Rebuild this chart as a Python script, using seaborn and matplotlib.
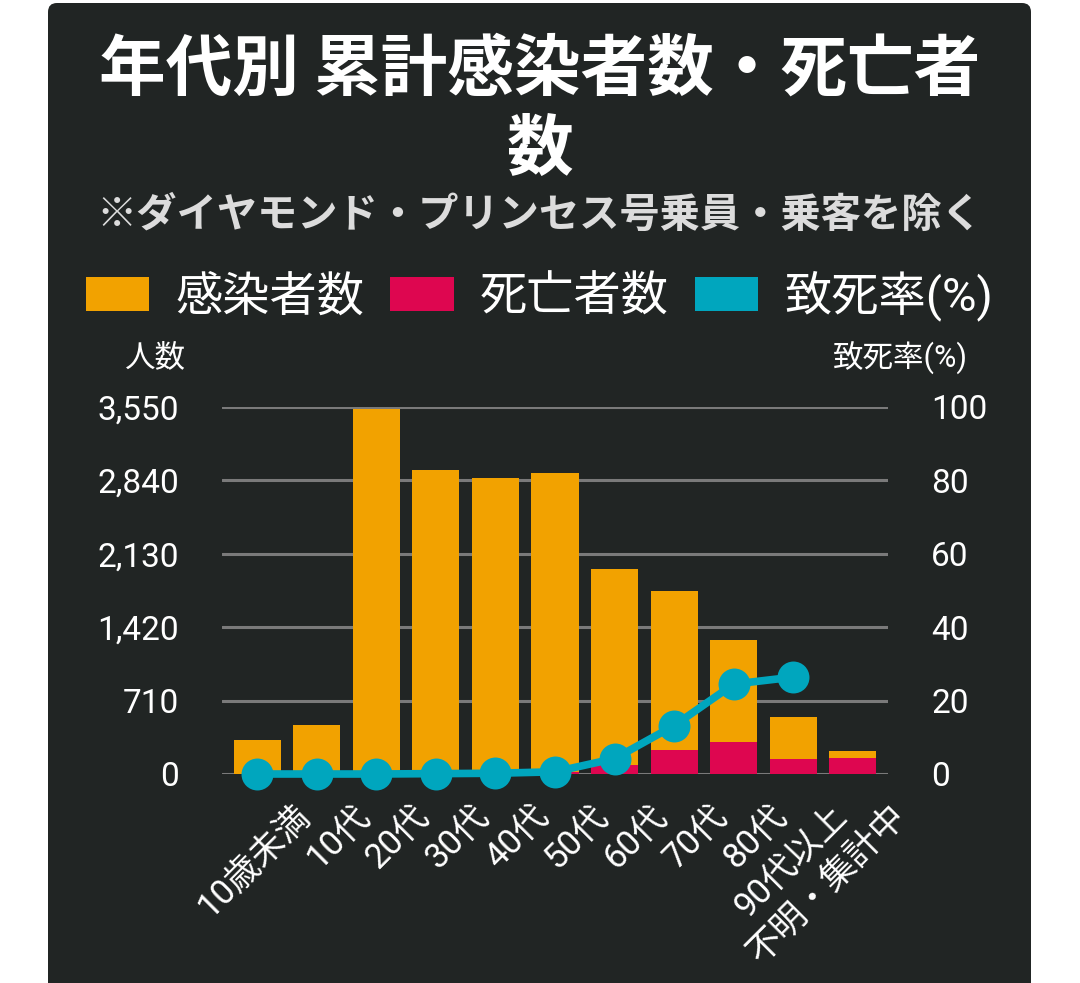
import matplotlib
matplotlib.use('Agg')
import matplotlib.pyplot as plt
import matplotlib.transforms as mtransforms
from matplotlib.patches import FancyBboxPatch, Patch
import numpy as np
import seaborn as sns

# データ
ages = ['10歳未満', '10代', '20代', '30代', '40代', '50代', '60代', '70代', '80代', '90代以上', '不明・集計中']
cases = [329, 474, 3530, 2940, 2865, 2910, 1985, 1770, 1296, 551, 222]
deaths = [0, 0, 0, 2, 4, 20, 85, 232, 310, 145, 155]
rate_ages = ['10歳未満', '10代', '20代', '30代', '40代', '50代', '60代', '70代', '80代', '90代以上']
rate = [0, 0, 0, 0.1, 0.2, 0.6, 4.2, 13.2, 24.5, 26.4]

left_ticks = [0, 710, 1420, 2130, 2840, 3550]
right_ticks = [0, 20, 40, 60, 80, 100]

BG = '#212524'
ORANGE = '#F2A200'
RED = '#DE0650'
TEAL = '#00A6BE'
GRID = '#7a7a7a'

sns.set_theme(style='dark')
plt.rcParams['font.family'] = ['Roboto', 'Noto Sans CJK JP', 'DejaVu Sans']
plt.rcParams['axes.unicode_minus'] = False

W, H = 1080, 983
fig = plt.figure(figsize=(W / 100, H / 100), dpi=100, facecolor='white')

# 背景パネル(角丸)
panel = FancyBboxPatch((48, -30), 983, 1010, boxstyle='round,pad=0,rounding_size=9',
                       transform=mtransforms.IdentityTransform(), facecolor=BG,
                       edgecolor='none', zorder=-5)
fig.patches.append(panel)

ax = fig.add_axes([222 / W, 1 - 774 / H, 666 / W, 367 / H])
ax.set_facecolor('none')

sns.barplot(x=ages, y=cases, color=ORANGE, saturation=1, width=0.79, ax=ax,
            linewidth=0, edgecolor='none', zorder=2)
sns.barplot(x=ages, y=deaths, color=RED, saturation=1, width=0.79, ax=ax,
            linewidth=0, edgecolor='none', zorder=3)

ax.set_ylim(0, 3550)
ax.set_xlim(-0.588, 10.588)
ax.set_yticks(left_ticks)
ax.set_yticklabels([f'{v:,}' for v in left_ticks])
ax.yaxis.grid(True, color=GRID, linewidth=2.2, zorder=1)
ax.xaxis.grid(False)
ax.set_axisbelow(True)
for s in ax.spines.values():
    s.set_visible(False)
ax.set_xlabel('')
ax.set_ylabel('')
ax.tick_params(axis='y', colors='white', labelsize=24, length=0, pad=31)
ax.tick_params(axis='x', colors='white', labelsize=25, length=0, pad=0)

# 致死率 (右軸)
ax2 = ax.twinx()
pos = [ages.index(a) for a in rate_ages]
sns.lineplot(x=pos, y=rate, ax=ax2, color=TEAL, linewidth=5.5, marker='o',
             markersize=23, markeredgewidth=0, markeredgecolor=TEAL, zorder=5,
             clip_on=False)
ax2.set_ylim(0, 100)
ax2.set_yticks(right_ticks)
ax2.set_yticklabels([str(v) for v in right_ticks])
ax2.grid(False)
for s in ax2.spines.values():
    s.set_visible(False)
ax2.set_ylabel('')
ax2.tick_params(axis='y', colors='white', labelsize=24, length=0, pad=31)
ax2.set_xlim(-0.588, 10.588)

# x軸ラベル (斜め)
ax.set_xticks(range(len(ages)))
ax.set_xticklabels(ages, rotation=45, ha='right', va='center', rotation_mode='anchor')
offset = mtransforms.ScaledTranslation(0.48, -0.37, fig.dpi_scale_trans)
for lab in ax.get_xticklabels():
    lab.set_transform(lab.get_transform() + offset)

# タイトル
fig.text(0.4995, 1 - 70 / H, '年代別 累計感染者数・死亡者', ha='center', va='center',
         color='white', fontsize=48, fontweight='bold', family=['Noto Sans CJK JP', 'DejaVu Sans'])
fig.text(0.4995, 1 - 150 / H, '数', ha='center', va='center',
         color='white', fontsize=48, fontweight='bold', family=['Noto Sans CJK JP', 'DejaVu Sans'])
fig.text(0.4995, 1 - 215 / H, '※ダイヤモンド・プリンセス号乗員・乗客を除く', ha='center', va='center',
         color='#dcdcdc', fontsize=29, fontweight='bold', family=['Noto Sans CJK JP', 'DejaVu Sans'])

# 凡例
handles = [Patch(facecolor=ORANGE, edgecolor='none', label='感染者数'),
           Patch(facecolor=RED, edgecolor='none', label='死亡者数'),
           Patch(facecolor=TEAL, edgecolor='none', label='致死率(%)')]
leg = fig.legend(handles=handles, loc='center', bbox_to_anchor=(0.4995, 1 - 296 / H), ncol=3,
                 frameon=False, fontsize=34, handlelength=1.34, handleheight=0.74,
                 handletextpad=0.55, columnspacing=0.55, labelcolor='white')

fig.text(155 / W, 1 - 358 / H, '人数', ha='center', va='center', color='white', fontsize=22)
fig.text(968 / W, 1 - 358 / H, '致死率(%)', ha='right', va='center', color='white', fontsize=22)

fig.savefig('out.png', dpi=100, facecolor='white')
